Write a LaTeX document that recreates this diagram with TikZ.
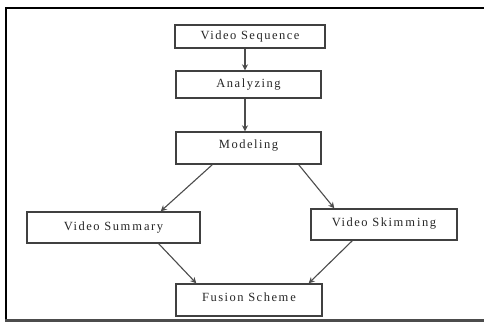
\documentclass[tikz,border=0pt]{standalone}
\usepackage{fontspec}
\setmainfont{Liberation Serif}
\newfontfamily\boxfont[LetterSpace=12]{Liberation Serif}
\usetikzlibrary{arrows.meta}
\begin{document}
\begin{tikzpicture}[x=1pt,y=-1pt,
  blk/.style={draw=black!75, line width=1.4pt, fill=white, inner sep=0pt,
    font=\boxfont\fontsize{12.5}{14}\selectfont, text=black!85},
  arr/.style={draw=black!70, line width=1.1pt, -{Stealth[length=6pt,width=6pt]}}]
\useasboundingbox (0,0) rectangle (484,322);
\fill[white] (0,0) rectangle (484,322);
% frame
\draw[black, line width=2pt] (5,8) -- (484,8);
\draw[black, line width=2pt] (6,7) -- (6,320);
\draw[black!70, line width=3pt] (5,320.5) -- (484,320.5);
% boxes
\node[blk, minimum width=150pt, minimum height=23pt] (vs) at (250,36.5) {Video Sequence};
\node[blk, minimum width=145pt, minimum height=27pt] (an) at (248.5,84.5) {Analyzing};
\node[blk, minimum width=145pt, minimum height=32pt, text depth=8pt] (mo) at (248.5,148) {Modeling};
\node[blk, minimum width=173pt, minimum height=31pt] (su) at (113.5,227.5) {Video Sum\,m\,ary};
\node[blk, minimum width=146pt, minimum height=31pt, text depth=5pt] (sk) at (384,224.5) {Video Skim\,m\,ing};
\node[blk, minimum width=146pt, minimum height=32pt, text depth=6pt] (fu) at (249,300) {Fusion Schem\,e};
% connectors
\draw[arr] ([xshift=-5pt]vs.south) -- ([xshift=-3.5pt]an.north);
\draw[arr] ([xshift=-3.5pt]an.south) -- ([xshift=-3.5pt]mo.north);
\draw[arr] ([xshift=37pt]mo.south west) -- ([xshift=-40pt]su.north east);
\draw[arr] ([xshift=-23pt]mo.south east) -- ([xshift=24pt]sk.north west);
\draw[arr] ([xshift=-42pt]su.south east) -- ([xshift=21pt]fu.north west);
\draw[arr] ([xshift=42pt]sk.south west) -- ([xshift=-14pt]fu.north east);
\end{tikzpicture}
\end{document}
